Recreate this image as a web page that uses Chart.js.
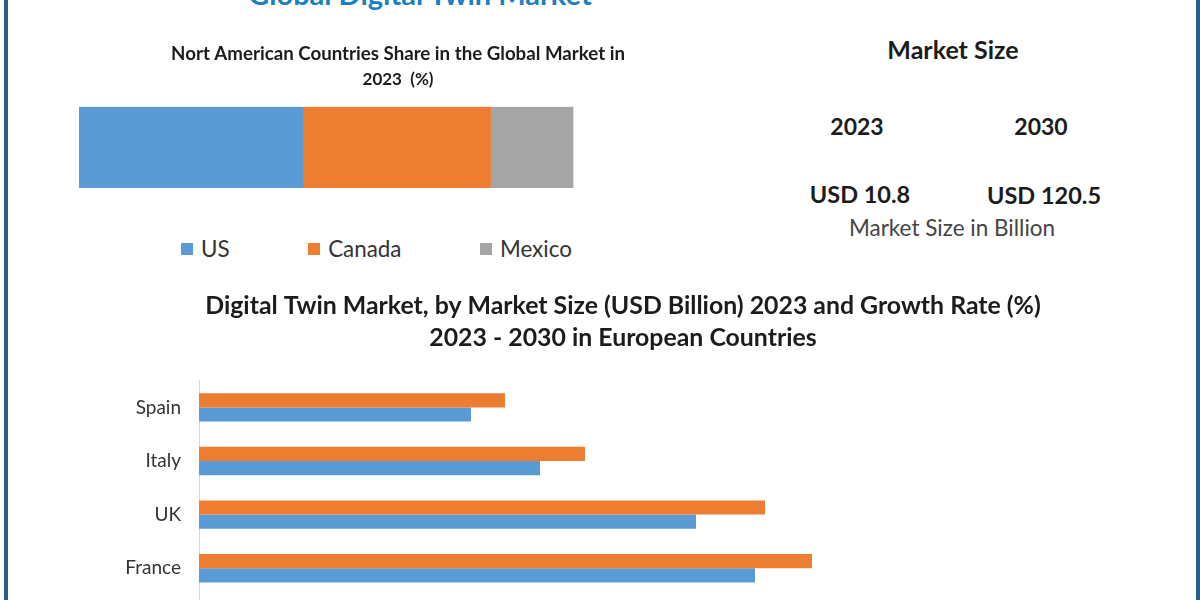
<!DOCTYPE html>
<html>
<head>
<meta charset="utf-8">
<title>Global Digital Twin Market</title>
<script src="https://cdn.jsdelivr.net/npm/chart.js@4"></script>
<style>
    html, body { margin: 0; padding: 0; width: 1200px; height: 600px; overflow: hidden; background: #fff; font-family: Lato, sans-serif; }
    .frame { position: absolute; top: 0; width: 4px; height: 600px; background: #2b5f8c; }
    .txt { position: absolute; transform: translateX(-50%); white-space: nowrap; color: #1c1c1c; font-weight: bold; line-height: 1; }
    canvas { position: absolute; }
    #shareLegend { position: absolute; left: 181px; top: 235px; display: flex; gap: 78.5px; font-size: 22.4px; line-height: 28px; color: #333; }
    #shareLegend div { display: flex; align-items: center; gap: 8px; }
    #shareLegend span { display: block; width: 12px; height: 12px; }
</style>
</head>
<body>
<div class="frame" style="left:4px"></div>
<div class="frame" style="left:1196px"></div>

<div class="txt" style="left:420px;top:-21px;font-size:29px;color:#1d7fc1">Global Digital Twin Market</div>

<div class="txt" style="left:953px;top:37px;font-size:25px">Market Size</div>
<div class="txt" style="left:857px;top:115px;font-size:23px">2023</div>
<div class="txt" style="left:1041px;top:115px;font-size:23px">2030</div>
<div class="txt" style="left:860px;top:183px;font-size:23.5px">USD 10.8</div>
<div class="txt" style="left:1044px;top:184px;font-size:23.5px">USD 120.5</div>
<div class="txt" style="left:952px;top:217px;font-size:22.5px;font-weight:normal;color:#444">Market Size in Billion</div>

<canvas id="shareChart" width="638" height="148" style="left:79px;top:40px"></canvas>
<div id="shareLegend"></div>
<canvas id="europeChart" width="1046" height="386" style="left:100px;top:284px"></canvas>

<script>
const shareYear = ['2023'];
const usShare = [45.3];
const canadaShare = [38];
const mexicoShare = [16.7];

const europeCountries = ['Spain', 'Italy', 'UK', 'France', ''];
const growthRate = [1.53, 1.93, 2.83, 3.065, null];
const marketSize = [1.36, 1.705, 2.485, 2.78, null];

const blue = '#5b9bd5';
const orange = '#ed7d31';
const gray = '#a5a5a5';

// Barra apilada de paises de Norteamerica
const shareChart = new Chart(document.getElementById('shareChart').getContext('2d'), {
    type: 'bar',
    data: {
        labels: shareYear,
        datasets: [
            { label: 'US', data: usShare, backgroundColor: blue },
            { label: 'Canada', data: canadaShare, backgroundColor: orange },
            { label: 'Mexico', data: mexicoShare, backgroundColor: gray }
        ]
    },
    options: {
        indexAxis: 'y',
        responsive: false,
        animation: false,
        datasets: { bar: { barPercentage: 1, categoryPercentage: 1 } },
        scales: {
            // 129.15 deja libre la derecha del canvas, asi el titulo queda centrado como en el original
            x: { stacked: true, display: false, min: 0, max: 129.15 },
            y: { stacked: true, display: false }
        },
        plugins: {
            tooltip: { enabled: false },
            legend: { display: false },
            title: {
                display: true,
                text: 'Nort American Countries Share in the Global Market in',
                color: '#1c1c1c',
                padding: { top: 3, bottom: 4 },
                font: { family: 'Lato', size: 18.7, weight: 'bold', lineHeight: 1.2 }
            },
            subtitle: {
                display: true,
                text: '2023\u00a0 (%)',
                color: '#1c1c1c',
                padding: { top: 0, bottom: 17 },
                font: { family: 'Lato', size: 17, weight: 'bold', lineHeight: 1.2 }
            }
        }
    }
});

// Leyenda con las series de la barra apilada
const legendBox = document.getElementById('shareLegend');
shareChart.data.datasets.forEach(function (ds) {
    const item = document.createElement('div');
    const mark = document.createElement('span');
    mark.style.background = ds.backgroundColor;
    item.appendChild(mark);
    item.appendChild(document.createTextNode(ds.label));
    legendBox.appendChild(item);
});

// Barras de mercado por pais europeo
new Chart(document.getElementById('europeChart').getContext('2d'), {
    type: 'bar',
    data: {
        labels: europeCountries,
        datasets: [
            { label: 'Growth Rate (%)', data: growthRate, backgroundColor: orange },
            { label: 'Market Size (USD Billion)', data: marketSize, backgroundColor: blue }
        ]
    },
    options: {
        indexAxis: 'y',
        responsive: false,
        animation: false,
        datasets: { bar: { barPercentage: 1, categoryPercentage: 0.53 } },
        scales: {
            x: { display: false, min: 0, max: 4.735 },
            y: {
                afterFit: function (axis) { axis.width = 99; },
                grid: { display: false },
                border: { color: '#d9d9d9' },
                ticks: { color: '#333', padding: 10, font: { family: 'Lato', size: 19 } }
            }
        },
        plugins: {
            tooltip: { enabled: false },
            legend: { display: false },
            title: {
                display: true,
                text: ['Digital Twin Market, by Market Size (USD Billion) 2023 and Growth Rate (%)', '2023 - 2030 in European Countries'],
                color: '#1c1c1c',
                padding: { top: 6, bottom: 26 },
                font: { family: 'Lato', size: 24.85, weight: 'bold', lineHeight: 1.3 }
            }
        }
    }
});
</script>
</body>
</html>
